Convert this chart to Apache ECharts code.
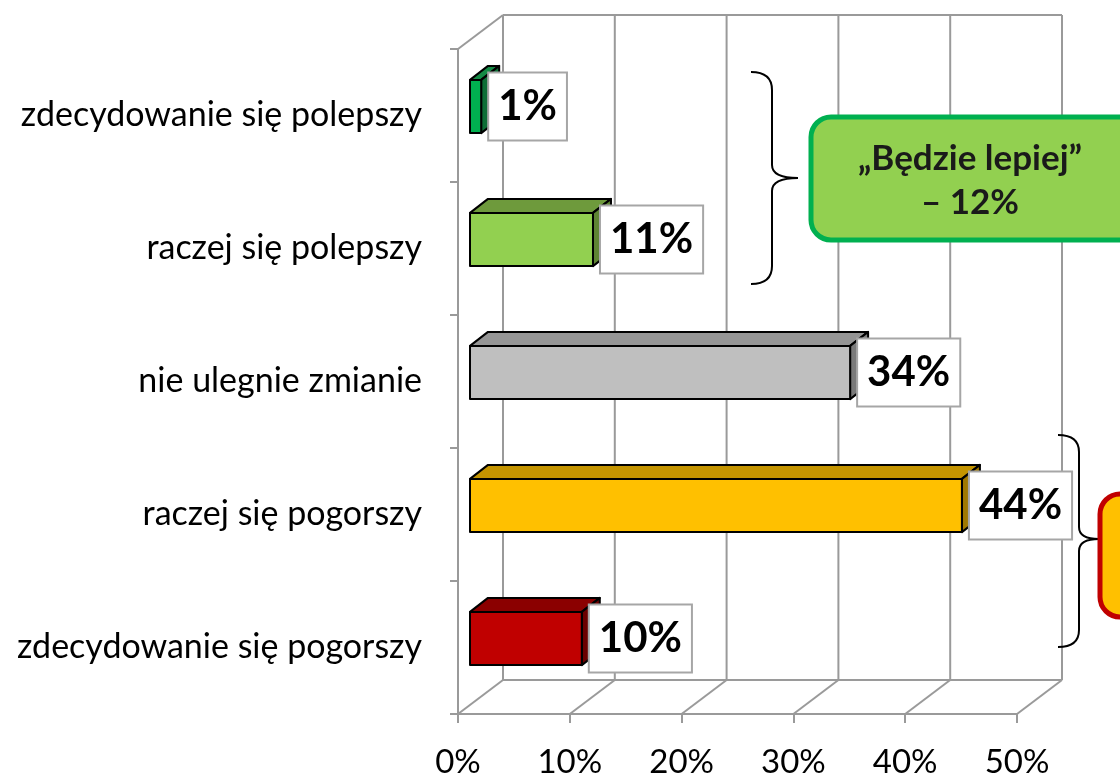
<!DOCTYPE html>
<html>
<head>
<meta charset="utf-8">
<script src="https://cdn.jsdelivr.net/npm/echarts@6/dist/echarts.min.js"></script>
<style>
html,body{margin:0;padding:0;background:#fff;}
#chart{width:1120px;height:779px;}
</style>
</head>
<body>
<div id="chart"></div>
<script>
// ---- data ----
const categories = ['zdecydowanie się polepszy', 'raczej się polepszy', 'nie ulegnie zmianie', 'raczej się pogorszy', 'zdecydowanie się pogorszy'];
const values = [1, 11, 34, 44, 10];
const xTicks = [0, 10, 20, 30, 40, 50];
const calloutBetter = ['„Będzie lepiej”', '– 12%'];

// ---- styles ----
const frontColors = ['#00B050', '#92D050', '#BFBFBF', '#FFC000', '#C00000'];
const topColors = ['#158A45', '#6E9A3C', '#959595', '#C49400', '#8B0000'];
const sideColors = ['#0D6E36', '#5E8433', '#7A7A7A', '#A07800', '#6A0000'];
const FONT = 'Lato';
const GRID_COLOR = '#9a9a9a';
const WALL_DX = 45, WALL_DY = -34;
const BAR_OX = 12, BAR_OY = -9, BAR_DX = 18, BAR_DY = -14;
const BRACE_PATHS = [
  'M751,72 Q772,72 772,90 L772,165 Q772,178 798,178 Q772,178 772,191 L772,266 Q772,284 751,284',
  'M1058,435 Q1079,435 1079,452 L1079,527 Q1079,539 1099,539 Q1079,539 1079,551 L1079,630 Q1079,647 1058,647'
];

const chart = echarts.init(document.getElementById('chart'));

const option = {
  backgroundColor: '#fff',
  animation: false,
  grid: { left: 458, right: 103, top: 49, bottom: 63 },
  xAxis: {
    type: 'value', min: 0, max: 50, interval: 10,
    axisLine: { show: true, lineStyle: { color: GRID_COLOR, width: 2 } },
    axisTick: { show: true, length: 9, lineStyle: { color: GRID_COLOR, width: 2 } },
    splitLine: { show: false },
    axisLabel: { formatter: '{value}%', fontSize: 33, fontFamily: FONT, color: '#000', margin: 32 }
  },
  yAxis: {
    type: 'category', inverse: true, data: categories,
    axisLine: { show: true, lineStyle: { color: GRID_COLOR, width: 2 } },
    axisTick: { show: true, length: 8, lineStyle: { color: GRID_COLOR, width: 2 } },
    splitLine: { show: false },
    axisLabel: { fontSize: 34, fontFamily: FONT, color: '#000', margin: 36, padding: [7, 0, 0, 0] }
  },
  series: [
    {
      type: 'custom', name: 'walls', z: 1, silent: true,
      encode: { x: 0, y: 1 },
      data: xTicks.map(v => [v, 0]),
      renderItem: function (params, api) {
        const cs = params.coordSys;
        const x = api.coord([api.value(0), 0])[0];
        const top = cs.y, bot = cs.y + cs.height;
        const xEnd = api.coord([xTicks[xTicks.length - 1], 0])[0];
        const ls = { stroke: GRID_COLOR, lineWidth: 2 };
        const ch = [
          { type: 'line', shape: { x1: x + WALL_DX, y1: top + WALL_DY, x2: x + WALL_DX, y2: bot + WALL_DY }, style: ls },
          { type: 'line', shape: { x1: x, y1: bot, x2: x + WALL_DX, y2: bot + WALL_DY }, style: ls }
        ];
        if (params.dataIndex === 0) {
          ch.push({ type: 'line', shape: { x1: x, y1: top, x2: x + WALL_DX, y2: top + WALL_DY }, style: ls });
          ch.push({ type: 'line', shape: { x1: x + WALL_DX, y1: top + WALL_DY, x2: xEnd + WALL_DX, y2: top + WALL_DY }, style: ls });
          ch.push({ type: 'line', shape: { x1: x + WALL_DX, y1: bot + WALL_DY, x2: xEnd + WALL_DX, y2: bot + WALL_DY }, style: ls });
        }
        return { type: 'group', children: ch };
      }
    },
    {
      type: 'custom', name: 'bars', z: 3,
      encode: { x: 0, y: 1 },
      data: values.map((v, i) => [v, i]),
      renderItem: function (params, api) {
        const i = params.dataIndex;
        const v = api.value(0);
        const p0 = api.coord([0, api.value(1)]);
        const p1 = api.coord([v, api.value(1)]);
        const band = api.size([0, 1])[1];
        const h = band * 0.4;
        const x0 = p0[0] + BAR_OX, x1 = p1[0] + BAR_OX;
        const yc = p0[1] + BAR_OY;
        const yT = yc - h / 2, yB = yc + h / 2;
        const stroke = { stroke: '#000', lineWidth: 2, lineJoin: 'round' };
        return {
          type: 'group',
          children: [
            { type: 'polygon', z2: 1, shape: { points: [[x0, yT], [x1, yT], [x1 + BAR_DX, yT + BAR_DY], [x0 + BAR_DX, yT + BAR_DY]] },
              style: Object.assign({ fill: topColors[i] }, stroke) },
            { type: 'polygon', z2: 2, shape: { points: [[x1, yT], [x1 + BAR_DX, yT + BAR_DY], [x1 + BAR_DX, yB + BAR_DY], [x1, yB]] },
              style: Object.assign({ fill: sideColors[i] }, stroke) },
            { type: 'rect', z2: 3, shape: { x: x0, y: yT, width: x1 - x0, height: h },
              style: Object.assign({ fill: frontColors[i] }, stroke) },
            { type: 'text', z2: 10, x: x1 + 8, y: yc,
              style: { text: v + '%', font: 'bold 42px ' + FONT, fill: '#000', align: 'left', verticalAlign: 'middle',
                backgroundColor: '#fff', borderColor: '#a6a6a6', borderWidth: 2, padding: [9, 9, 9, 9], lineHeight: 48 } }
          ]
        };
      }
    },
    {
      type: 'custom', name: 'braces', z: 5, silent: true,
      encode: { x: 0, y: 1 },
      data: [[0, 0]],
      renderItem: function () {
        return {
          type: 'group',
          children: BRACE_PATHS.map(p => ({ type: 'path', shape: { pathData: p }, style: { fill: 'none', stroke: '#000', lineWidth: 2 } }))
        };
      }
    }
  ],
  graphic: [
    { type: 'rect', z: 6, shape: { x: 811, y: 117, width: 330, height: 123, r: 20 },
      style: { fill: '#92D050', stroke: '#00B050', lineWidth: 5 } },
    { type: 'text', z: 7, x: 970, y: 181,
      style: { text: calloutBetter.join('\n'), font: 'bold 35px ' + FONT, fill: '#1a1a1a', align: 'center', verticalAlign: 'middle', lineHeight: 44 } },
    { type: 'rect', z: 6, shape: { x: 1100, y: 494, width: 330, height: 123, r: 20 },
      style: { fill: '#FFC000', stroke: '#C00000', lineWidth: 5 } }
  ]
};
chart.setOption(option);
</script>
</body>
</html>
